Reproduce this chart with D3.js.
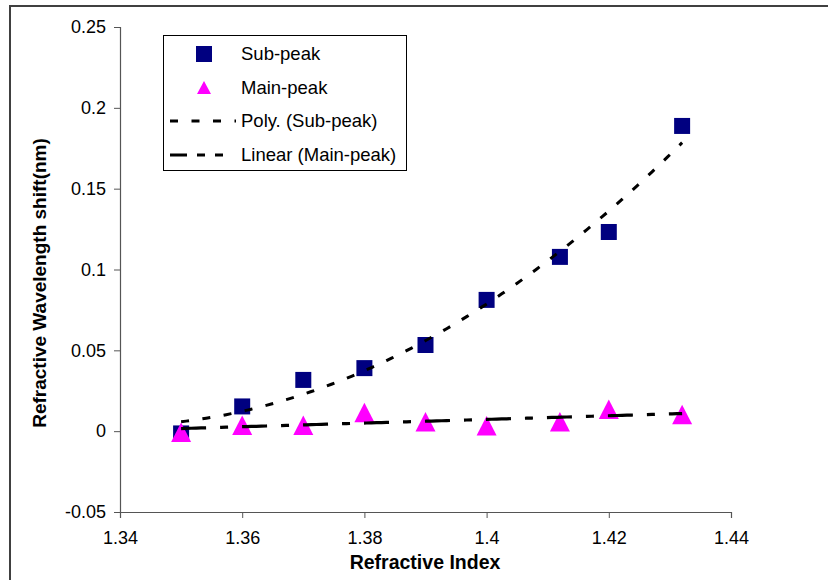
<html>
<head>
<meta charset="utf-8">
<script src="https://d3js.org/d3.v7.min.js"></script>
<style>
  body { margin: 0; background: #fff; }
  text { font-family: "Liberation Sans", Arial, sans-serif; }
</style>
</head>
<body>
<svg id="chart" width="828" height="580"></svg>
<script>
// refractive index of each sample
const refIndex = [1.35, 1.36, 1.37, 1.38, 1.39, 1.40, 1.412, 1.42, 1.432];
// wavelength shift (nm)
const subPeak  = [-0.0014, 0.0153, 0.0317, 0.039, 0.0533, 0.0812, 0.1078, 0.1232, 0.1888];
const mainPeak = [-0.0008, 0.0035, 0.0035, 0.0114, 0.0057, 0.0032, 0.0057, 0.0134, 0.0102];
const xTicks = [1.34, 1.36, 1.38, 1.40, 1.42, 1.44];
const yTicks = [-0.05, 0, 0.05, 0.1, 0.15, 0.2, 0.25];
const legendNames = ["Sub-peak", "Main-peak", "Poly. (Sub-peak)", "Linear (Main-peak)"];

const svg = d3.select("#chart");

// outer chart border (only top and left are in the frame)
svg.append("path")
  .attr("d", "M10,580 V6 H828")
  .attr("fill", "none")
  .attr("stroke", "#404040")
  .attr("stroke-width", 2);

const x = d3.scaleLinear().domain([1.34, 1.44]).range([120, 731]);
const y = d3.scaleLinear().domain([-0.05, 0.25]).range([512, 27]);

// plain hyphen for negatives, like the original
const fmt = d => String(+d.toFixed(2));

const xAxis = svg.append("g")
  .attr("transform", "translate(0,512)")
  .call(d3.axisBottom(x).tickValues(xTicks).tickSize(6).tickPadding(10).tickFormat(fmt));
const yAxis = svg.append("g")
  .attr("transform", "translate(120,0)")
  .call(d3.axisLeft(y).tickValues(yTicks).tickSize(6).tickPadding(8).tickFormat(fmt));

[xAxis, yAxis].forEach(g => {
  g.attr("font-size", null).attr("font-family", null);
  g.select(".domain").attr("stroke", "#555").attr("stroke-width", 1.2);
  g.selectAll(".tick line").attr("stroke", "#555");
  g.selectAll("text").attr("font-size", 18).attr("fill", "#000");
});
xAxis.selectAll("text").attr("dy", "0.88em");

// axis titles
svg.append("text")
  .attr("x", 425).attr("y", 569)
  .attr("text-anchor", "middle")
  .attr("font-size", 19.5).attr("font-weight", "bold")
  .text("Refractive Index");
svg.append("text")
  .attr("transform", "translate(46,283) rotate(-90)")
  .attr("text-anchor", "middle")
  .attr("font-size", 19).attr("font-weight", "bold")
  .text("Refractive Wavelength shift(nm)");

// least-squares trendlines
function polyFit2(xs, ys) {
  // normal equations for y = a + b u + c u^2, u = x - mean(x)
  const m = d3.mean(xs);
  const u = xs.map(v => v - m);
  const S = k => d3.sum(u, v => Math.pow(v, k));
  const T = k => d3.sum(u, (v, i) => Math.pow(v, k) * ys[i]);
  const A = [[S(0), S(1), S(2)], [S(1), S(2), S(3)], [S(2), S(3), S(4)]];
  const B = [T(0), T(1), T(2)];
  for (let i = 0; i < 3; i++) {
    for (let j = i + 1; j < 3; j++) {
      const f = A[j][i] / A[i][i];
      for (let k = i; k < 3; k++) A[j][k] -= f * A[i][k];
      B[j] -= f * B[i];
    }
  }
  const c = [0, 0, 0];
  for (let i = 2; i >= 0; i--) {
    let s = B[i];
    for (let k = i + 1; k < 3; k++) s -= A[i][k] * c[k];
    c[i] = s / A[i][i];
  }
  return v => c[0] + c[1] * (v - m) + c[2] * (v - m) * (v - m);
}
function linFit(xs, ys) {
  const mx = d3.mean(xs), my = d3.mean(ys);
  const b = d3.sum(xs, (v, i) => (v - mx) * (ys[i] - my)) / d3.sum(xs, v => (v - mx) * (v - mx));
  return v => my + b * (v - mx);
}

const polyF = polyFit2(refIndex, subPeak);
const linF = linFit(refIndex, mainPeak);
const xMin = d3.min(refIndex), xMax = d3.max(refIndex);
const fitX = d3.range(0, 101).map(i => xMin + (xMax - xMin) * i / 100);

const line = d3.line().x(d => x(d[0])).y(d => y(d[1]));

// markers
const squareSize = 16;
svg.append("g").selectAll("rect")
  .data(refIndex.map((v, i) => [v, subPeak[i]]))
  .join("rect")
  .attr("x", d => x(d[0]) - squareSize / 2)
  .attr("y", d => y(d[1]) - squareSize / 2)
  .attr("width", squareSize).attr("height", squareSize)
  .attr("fill", "#000080");

const tri = (cx, cy) => `M${cx},${cy - 10} L${cx + 10},${cy + 9.5} L${cx - 10},${cy + 9.5} Z`;
svg.append("g").selectAll("path")
  .data(refIndex.map((v, i) => [v, mainPeak[i]]))
  .join("path")
  .attr("d", d => tri(x(d[0]), y(d[1])))
  .attr("fill", "#ff00ff");

// trendlines drawn on top of markers
svg.append("path")
  .datum(fitX.map(v => [v, linF(v)]))
  .attr("d", line)
  .attr("fill", "none").attr("stroke", "#000")
  .attr("stroke-width", 3.2)
  .attr("stroke-dasharray", "25,14,8,14");

svg.append("path")
  .datum(fitX.map(v => [v, polyF(v)]))
  .attr("d", line)
  .attr("fill", "none").attr("stroke", "#000")
  .attr("stroke-width", 3)
  .attr("stroke-dasharray", "8,13.5");

// legend
const lg = svg.append("g");
lg.append("rect")
  .attr("x", 163.5).attr("y", 35.5)
  .attr("width", 243).attr("height", 135)
  .attr("fill", "#fff").attr("stroke", "#000").attr("stroke-width", 1);

const rowY = [54, 88, 121, 155];
lg.append("rect").attr("x", 196).attr("y", rowY[0] - 8).attr("width", 16).attr("height", 16).attr("fill", "#000080");
lg.append("path")
  .attr("d", `M204,${rowY[1] - 7} L211,${rowY[1] + 6} L197,${rowY[1] + 6} Z`)
  .attr("fill", "#ff00ff");
lg.append("line")
  .attr("x1", 170).attr("x2", 236).attr("y1", rowY[2]).attr("y2", rowY[2])
  .attr("stroke", "#000").attr("stroke-width", 3).attr("stroke-dasharray", "8,13.5");
lg.append("line")
  .attr("x1", 170).attr("x2", 236).attr("y1", rowY[3]).attr("y2", rowY[3])
  .attr("stroke", "#000").attr("stroke-width", 3.2).attr("stroke-dasharray", "17,10,8,10,8,20");

lg.selectAll("text.lab")
  .data(legendNames)
  .join("text")
  .attr("class", "lab")
  .attr("x", 241)
  .attr("y", (d, i) => rowY[i])
  .attr("dy", "0.35em")
  .attr("font-size", 18.5)
  .text(d => d);
</script>
</body>
</html>
